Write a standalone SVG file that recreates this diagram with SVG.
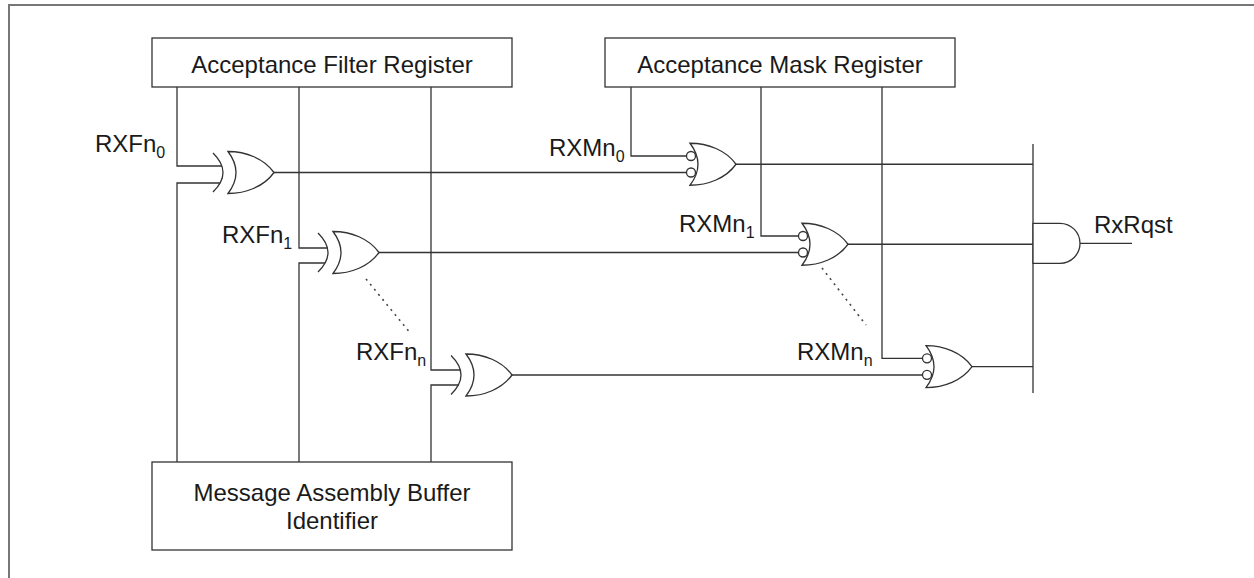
<svg xmlns="http://www.w3.org/2000/svg" width="1254" height="578" viewBox="0 0 1254 578">
<style>
.w{fill:none;stroke:#333;stroke-width:1.3}
.box{fill:#fff;stroke:#333;stroke-width:1.3}
.g{fill:#fff;stroke:#333;stroke-width:1.3}
.dot{fill:none;stroke:#444;stroke-width:1.6;stroke-dasharray:2 4.5}
text{font-family:"Liberation Sans",Arial,sans-serif;fill:#1a1a1a;font-size:24px}
.sub{font-size:16px}
</style>
<defs>
<g id="xor">
<path class="g" d="M0,-21 C18,-21 36,-14 46,0 C36,14 18,21 0,21 Q16,0 0,-21 Z"/>
<path class="w" d="M-15,-19.5 Q5,0 -15,19.5"/>
</g>
<g id="nor">
<path class="g" d="M0,-21 C18,-21 36,-14 46,0 C36,14 18,21 0,21 Q16,0 0,-21 Z"/>
<circle class="g" cx="1" cy="-8.25" r="4.5"/>
<circle class="g" cx="1" cy="8.25" r="4.5"/>
</g>
</defs>
<rect width="1254" height="578" fill="#fff"/>
<path d="M9,578 V5 H1254" fill="none" stroke="#777" stroke-width="2"/>
<g id="connectors">
<path class="w" d="M177,87 V166 H222 M220,183 H177 V462"/>
<path class="w" d="M299,87 V248 H327.5 M325,263 H299 V462"/>
<path class="w" d="M431,87 V370 H460.3 M458.4,385 H431 V462"/>
<path class="w" d="M631,87 V156 H686.5"/>
<path class="w" d="M761,87 V236 H798.5"/>
<path class="w" d="M882,87 V358.3 H922.5"/>
<path class="w" d="M274,172.5 H686.5"/>
<path class="w" d="M379,252.5 H798.5"/>
<path class="w" d="M512,375 H922.5"/>
<path class="w" d="M736,164.25 H1033"/>
<path class="w" d="M848,244.25 H1033"/>
<path class="w" d="M972,366.6 H1033"/>
<path class="w" d="M1033,144 V393"/>
<path class="w" d="M1080,243.3 H1132"/>
<path class="dot" d="M366,279 L411,334"/>
<path class="dot" d="M822,268 L866,325"/>
</g>
<g id="filter-register">
<rect class="box" x="152" y="38" width="360" height="49"/>
<text x="332" y="73" text-anchor="middle">Acceptance Filter Register</text>
</g>
<g id="mask-register">
<rect class="box" x="605" y="38" width="350" height="49"/>
<text x="780" y="73" text-anchor="middle">Acceptance Mask Register</text>
</g>
<g id="mab-identifier">
<rect class="box" x="152" y="462" width="360" height="88"/>
<text x="332" y="501" text-anchor="middle">Message Assembly Buffer</text>
<text x="332" y="529" text-anchor="middle">Identifier</text>
</g>
<g id="xor0"><use href="#xor" x="228" y="172.5"/></g>
<g id="xor1"><use href="#xor" x="333" y="252.5"/></g>
<g id="xorn"><use href="#xor" x="466" y="375"/></g>
<g id="nor0"><use href="#nor" x="690" y="164.25"/></g>
<g id="nor1"><use href="#nor" x="802" y="244.25"/></g>
<g id="norn"><use href="#nor" x="926" y="366.6"/></g>
<g id="and">
<path class="g" d="M1033,223.3 H1060 A20,20 0 0 1 1060,263.3 H1033 Z"/>
</g>
<g id="labels">
<text x="95" y="152">RXFn<tspan class="sub" dy="6">0</tspan></text>
<text x="222" y="243">RXFn<tspan class="sub" dy="6">1</tspan></text>
<text x="356" y="360">RXFn<tspan class="sub" dy="6">n</tspan></text>
<text x="549" y="156">RXMn<tspan class="sub" dy="6">0</tspan></text>
<text x="679" y="232">RXMn<tspan class="sub" dy="6">1</tspan></text>
<text x="797" y="360">RXMn<tspan class="sub" dy="6">n</tspan></text>
<text x="1094" y="233">RxRqst</text>
</g>
</svg>
